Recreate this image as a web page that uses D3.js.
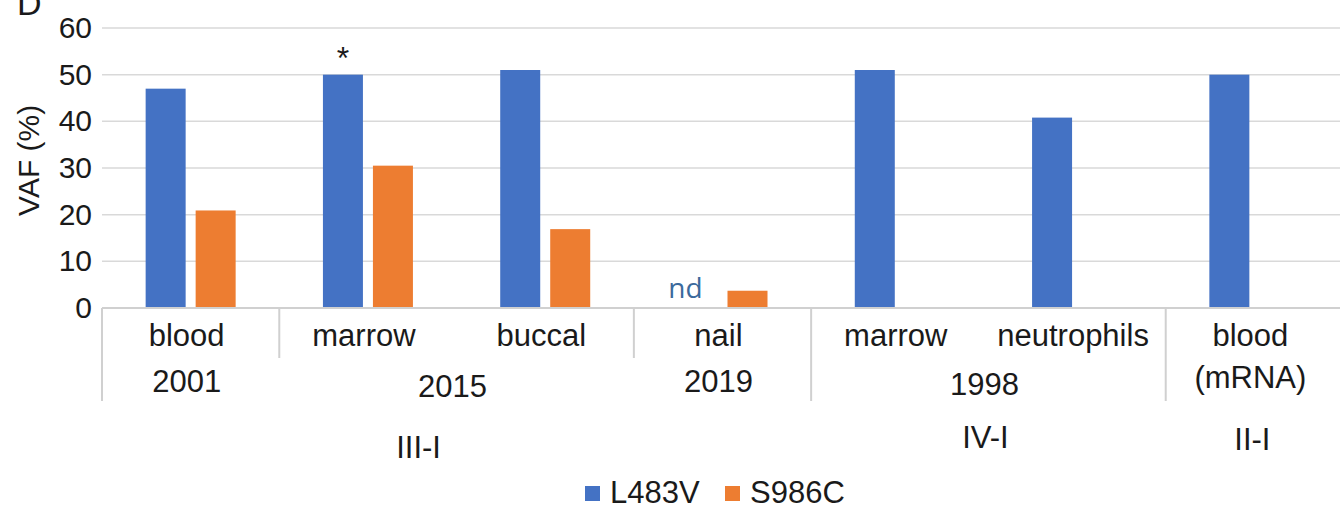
<!DOCTYPE html>
<html>
<head>
<meta charset="utf-8">
<script src="https://cdn.jsdelivr.net/npm/d3@7"></script>
<style>
  body { margin: 0; background: #fff; }
  text { font-family: "Liberation Sans", Arial, sans-serif; fill: #1a1a1a; }
</style>
</head>
<body>
<div id="container"></div>
<script>
/* DATA */
const tissues = ["blood", "marrow", "buccal", "nail", "marrow", "neutrophils", "blood\n(mRNA)"]
const series = ["L483V", "S986C"]
const L483V = [47, 50, 51, null, 51, 40.8, 50]
const S986C = [20.9, 30.5, 16.9, 3.7, null, null, null]
const years = [
  { label: "2001", from: 0, to: 0 },
  { label: "2015", from: 1, to: 2 },
  { label: "2019", from: 3, to: 3 },
  { label: "1998", from: 4, to: 5 }
]
const patients = [
  { label: "III-I", from: 0, to: 3 },
  { label: "IV-I", from: 4, to: 5 },
  { label: "II-I", from: 6, to: 6 }
]
const yTicks = [0, 10, 20, 30, 40, 50, 60]
const colors = ["#4472C4", "#ED7D31"]

/* CONSTANTS AND GLOBALS */
const width = 1340,
  height = 508,
  margin = { top: 28, left: 102, right: -3, bottom: 200 }

const keys = tissues.map((t, i) => i)

const svg = d3.select("#container")
  .append("svg")
  .attr("width", width)
  .attr("height", height)

// SCALES
const xScale = d3.scaleBand()
  .domain(keys)
  .range([margin.left, width - margin.right])

const xInner = d3.scaleBand()
  .domain(series)
  .range([0, 90])
  .paddingInner(0.2)

const yScale = d3.scaleLinear()
  .domain([0, 60])
  .range([height - margin.bottom, margin.top])

const groupOff = (xScale.bandwidth() - 90) / 2
const y0 = yScale(0)

// gridlines
svg.append("g")
  .selectAll("line")
  .data(yTicks.filter(d => d > 0))
  .join("line")
  .attr("x1", margin.left)
  .attr("x2", width)
  .attr("y1", d => yScale(d))
  .attr("y2", d => yScale(d))
  .attr("stroke", "#d9d9d9")
  .attr("stroke-width", 1.5)

// y axis labels
const yAxis = d3.axisLeft(yScale).tickValues(yTicks).tickSize(0).tickPadding(10)
svg.append("g")
  .attr("transform", `translate(${margin.left},0)`)
  .call(yAxis)
  .call(g => g.select(".domain").remove())
  .call(g => g.selectAll("text")
    .attr("font-size", 30)
    .attr("font-family", "Liberation Sans, Arial, sans-serif")
    .attr("fill", "#1a1a1a"))

// y axis title
svg.append("text")
  .attr("transform", `translate(39,${(yScale(30) + yScale(35)) / 2 + 4}) rotate(-90)`)
  .attr("text-anchor", "middle")
  .attr("font-size", 30)
  .text("VAF (%)")

// panel letter (cut at the top, as in the figure)
svg.append("text")
  .attr("x", 17)
  .attr("y", 15)
  .attr("font-size", 34)
  .text("D")

// BARS
const rows = keys.map(i => ({ i, values: [L483V[i], S986C[i]] }))

const groups = svg.append("g")
  .selectAll("g")
  .data(rows)
  .join("g")
  .attr("transform", d => `translate(${xScale(d.i) + groupOff},0)`)

groups.selectAll("rect")
  .data(d => series.map((s, k) => ({ s, k, v: d.values[k] })).filter(e => e.v != null))
  .join("rect")
  .attr("x", d => xInner(d.s))
  .attr("width", xInner.bandwidth())
  .attr("y", d => yScale(d.v))
  .attr("height", d => y0 - yScale(d.v))
  .attr("fill", d => colors[d.k])

// annotations
svg.append("text")
  .attr("x", xScale(1) + groupOff + xInner("L483V") + xInner.bandwidth() / 2)
  .attr("y", yScale(L483V[1]) - 6)
  .attr("text-anchor", "middle")
  .attr("font-size", 32)
  .text("*")

svg.append("text")
  .attr("x", xScale(3) + groupOff + xInner("L483V") + xInner.bandwidth() / 2 - 12)
  .attr("y", y0 - 10)
  .attr("text-anchor", "middle")
  .style("font-family", "'Open Sans', sans-serif")
  .style("fill", "#3b6a9c")
  .attr("font-size", 28)
  .text("nd")

// CATEGORY AXIS
svg.append("line")
  .attr("x1", margin.left)
  .attr("x2", width)
  .attr("y1", y0)
  .attr("y2", y0)
  .attr("stroke", "#d0d0d0")
  .attr("stroke-width", 2)

const shortSep = [1, 3]
const longSep = [0, 4, 6]
svg.append("g")
  .selectAll("line")
  .data(shortSep.map(i => ({ i, len: 50 })).concat(longSep.map(i => ({ i, len: 93 }))))
  .join("line")
  .attr("x1", d => xScale(d.i))
  .attr("x2", d => xScale(d.i))
  .attr("y1", y0)
  .attr("y2", d => y0 + d.len)
  .attr("stroke", "#d0d0d0")
  .attr("stroke-width", 2)

const tissueLabels = svg.append("g")
  .selectAll("text")
  .data(tissues)
  .join("text")
  .attr("x", (d, i) => xScale(i) + xScale.bandwidth() / 2 - 4)
  .attr("y", y0 + 38)
  .attr("text-anchor", "middle")
  .attr("font-size", 31)

tissueLabels.selectAll("tspan")
  .data(d => d.split("\n"))
  .join("tspan")
  .attr("x", function () { return this.parentNode.getAttribute("x") })
  .attr("dy", (d, j) => j === 0 ? 0 : 42)
  .text(d => d)

const yearY = { "2001": 84, "2015": 89, "2019": 84, "1998": 87 }
svg.append("g")
  .selectAll("text")
  .data(years)
  .join("text")
  .attr("x", d => (xScale(d.from) + xScale(d.to) + xScale.bandwidth()) / 2 - 4)
  .attr("y", d => y0 + yearY[d.label])
  .attr("text-anchor", "middle")
  .attr("font-size", 31)
  .text(d => d.label)

const patientNudge = { "III-I": [-38, 150], "IV-I": [-3, 140], "II-I": [-2, 142] }
svg.append("g")
  .selectAll("text")
  .data(patients)
  .join("text")
  .attr("x", d => (xScale(d.from) + xScale(d.to) + xScale.bandwidth()) / 2 + patientNudge[d.label][0])
  .attr("y", d => y0 + patientNudge[d.label][1])
  .attr("text-anchor", "middle")
  .attr("font-size", 31)
  .text(d => d.label)

// LEGEND
const legendX = [585, 725]
const legend = svg.append("g")
  .selectAll("g")
  .data(series)
  .join("g")
  .attr("transform", (d, i) => `translate(${legendX[i]},486)`)

legend.append("rect")
  .attr("width", 15)
  .attr("height", 15)
  .attr("fill", (d, i) => colors[i])

legend.append("text")
  .attr("x", 25)
  .attr("y", 17)
  .attr("font-size", 31)
  .text(d => d)
</script>
</body>
</html>
